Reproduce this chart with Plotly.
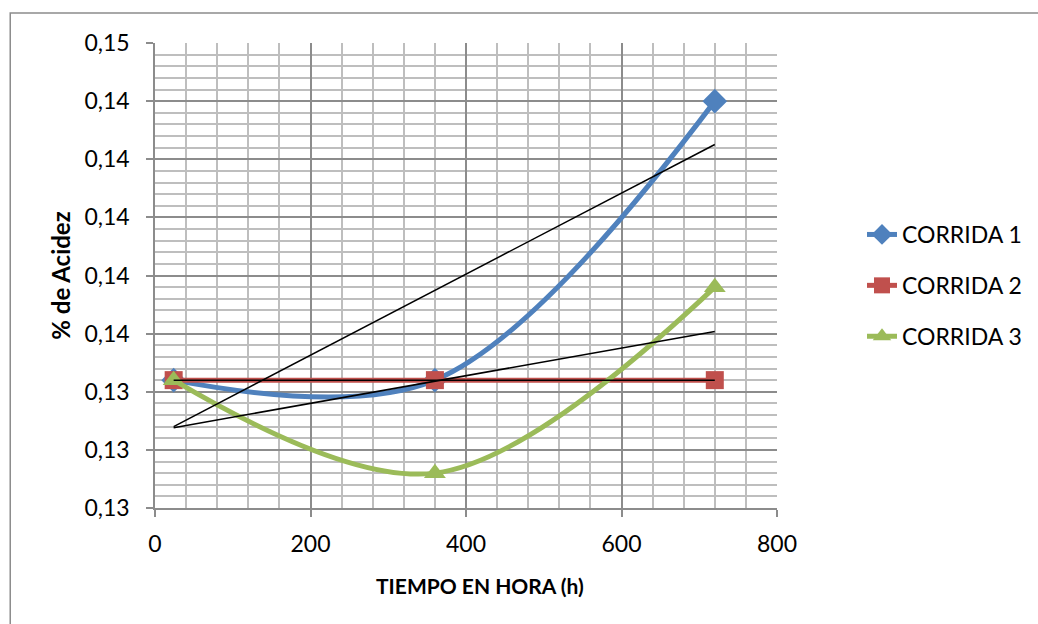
import numpy as np
import plotly.graph_objects as go

tiempo = [24, 360, 720]
corrida1 = [0.1344, 0.1344, 0.1440]
corrida2 = [0.1344, 0.1344, 0.1344]
corrida3 = [0.1344, 0.1312, 0.1376]
series_names = ["CORRIDA 1", "CORRIDA 2", "CORRIDA 3"]
colors = ["#4F81BD", "#C0504D", "#9BBB59"]
symbols = ["diamond", "square", "triangle-up"]
y_ticks = [0.130, 0.132, 0.134, 0.136, 0.138, 0.140, 0.142, 0.144, 0.146]
y_ticktext = ["0,13", "0,13", "0,13", "0,14", "0,14", "0,14", "0,14", "0,14", "0,15"]
x_ticks = [0, 200, 400, 600, 800]
x_title = "TIEMPO EN HORA (h)"
y_title = "% de Acidez"

FONT = "Lato"
L, R, T, B = 155, 260, 43, 116
W, H = 1038, 624
pw, ph = W - L - R, H - T - B

fig = go.Figure()
data = [corrida1, corrida2, corrida3]
sizes = [19, 18, 19]
for i, (name, ys) in enumerate(zip(series_names, data)):
    fig.add_trace(go.Scatter(
        x=tiempo, y=ys, name=name, mode="lines+markers",
        line=dict(color=colors[i], width=5, shape="spline", smoothing=1),
        marker=dict(symbol=symbols[i], size=sizes[i], color=colors[i]),
        legendgroup=name,
    ))

x_arr = np.array(tiempo, dtype=float)
for i, ys in enumerate(data):
    slope, inter = np.polyfit(x_arr, np.array(ys), 1)
    xs = [x_arr.min(), x_arr.max()]
    fig.add_trace(go.Scatter(
        x=xs, y=[slope * v + inter for v in xs], mode="lines",
        line=dict(color="black", width=1.5), showlegend=False, hoverinfo="skip",
    ))

fig.update_layout(
    width=W, height=H,
    margin=dict(l=L, r=R, t=T, b=B),
    paper_bgcolor="white", plot_bgcolor="white",
    font=dict(family=FONT, color="black"),
    showlegend=True,
    legend=dict(x=(862 - L) / pw, y=(508 - 213) / ph, xanchor="left", yanchor="top",
                font=dict(size=23, family=FONT), tracegroupgap=18,
                bgcolor="rgba(0,0,0,0)"),
    shapes=[dict(type="rect", xref="paper", yref="paper",
                 x0=(10 - L) / pw, x1=1.6, y0=-0.4, y1=(508 - 13) / ph,
                 line=dict(color="#8C8C8C", width=1.5), layer="below")],
    annotations=[dict(text="<b>" + x_title + "</b>", xref="paper", yref="paper",
                      x=(481 - L) / pw, y=(508 - 585) / ph, xanchor="center", yanchor="middle",
                      showarrow=False, font=dict(size=21, family=FONT))],
)
fig.update_xaxes(
    range=[0, 800], tickvals=x_ticks, ticks="outside", ticklen=7,
    tickcolor="#8C8C8C", tickwidth=1.5, ticklabelstandoff=8,
    showgrid=True, gridcolor="#8C8C8C", gridwidth=1.5,
    minor=dict(dtick=40, showgrid=True, gridcolor="#BEBEBE", gridwidth=1.5),
    showline=True, linecolor="#8C8C8C", linewidth=1.5, zeroline=False,
    tickfont=dict(size=23, family=FONT),
)
fig.update_yaxes(
    range=[0.130, 0.146], tickvals=y_ticks, ticktext=y_ticktext,
    ticks="outside", ticklen=7, tickcolor="#8C8C8C", tickwidth=1.5, ticklabelstandoff=12,
    showgrid=True, gridcolor="#8C8C8C", gridwidth=1.5,
    minor=dict(dtick=0.0004, tick0=0.130, showgrid=True, gridcolor="#BEBEBE", gridwidth=1.5),
    showline=True, linecolor="#8C8C8C", linewidth=1.5, zeroline=False,
    tickfont=dict(size=23, family=FONT),
    title=dict(text="<b>" + y_title + "</b>", font=dict(size=24, family=FONT), standoff=7),
)

fig.write_html("out.html")
